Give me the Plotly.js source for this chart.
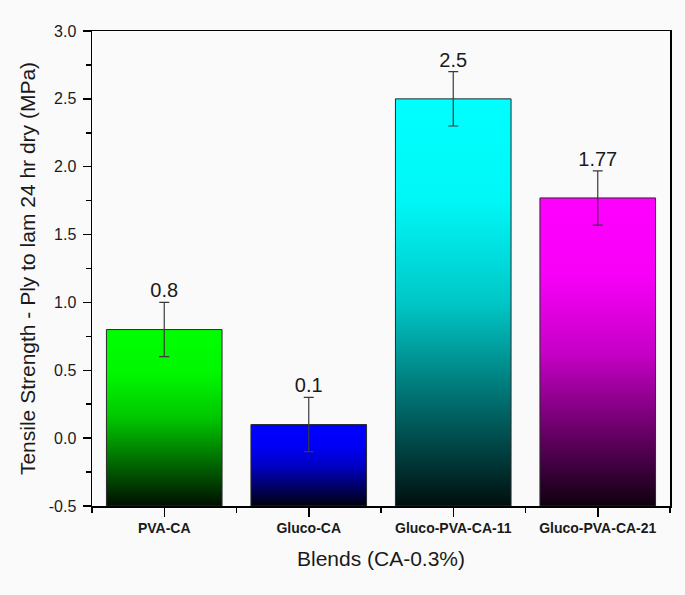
<!DOCTYPE html>
<html>
<head>
<meta charset="utf-8">
<script src="https://cdn.plot.ly/plotly-3.0.1.min.js"></script>
<style>html,body{margin:0;padding:0;background:#fafafa;}#chart{width:685px;height:595px;}</style>
</head>
<body>
<div id="chart"></div>
<script>
// Data
var categories = ['PVA-CA', 'Gluco-CA', 'Gluco-PVA-CA-11', 'Gluco-PVA-CA-21'];
var strength = [0.8, 0.1, 2.5, 1.77];
var errors = [0.2, 0.2, 0.2, 0.2];
var labels = ['0.8', '0.1', '2.5', '1.77'];
var barColors = [[0, 255, 0], [0, 0, 255], [0, 255, 255], [255, 0, 255]];
var yTickVals = [-0.5, 0, 0.5, 1.0, 1.5, 2.0, 2.5, 3.0];

var FONT = 'Liberation Sans, Arial, sans-serif';
var yMin = -0.5, yMax = 3.0;
var barWidth = 0.8;
// brightness profile of the vertical fill (bottom -> top)
var shade = [[0, 0.06], [0.25, 0.42], [0.5, 0.78], [0.75, 0.97], [1, 1.0]];

function scaleFor(rgb) {
  return shade.map(function (s) {
    var c = rgb.map(function (v) { return Math.round(v * s[1]); });
    return [s[0], 'rgb(' + c.join(',') + ')'];
  });
}

var traces = [];
categories.forEach(function (c, i) {
  var x0 = i - barWidth / 2, x1 = i + barWidth / 2;
  traces.push({
    type: 'scatter',
    mode: 'lines',
    x: [x0, x1, x1, x0, x0],
    y: [yMin, yMin, strength[i], strength[i], yMin],
    fill: 'toself',
    fillgradient: {type: 'vertical', colorscale: scaleFor(barColors[i])},
    line: {color: '#2a2a2a', width: 1},
    hoverinfo: 'skip',
    showlegend: false
  });
});

traces.push({
  type: 'scatter',
  mode: 'markers',
  x: categories.map(function (c, i) { return i; }),
  y: strength,
  marker: {size: 1, color: 'rgba(0,0,0,0)'},
  error_y: {type: 'data', array: errors, visible: true, color: '#3a3a3a', thickness: 1.2, width: 5},
  showlegend: false,
  hoverinfo: 'skip'
});

traces.push({
  type: 'scatter',
  mode: 'text',
  x: categories.map(function (c, i) { return i; }),
  y: strength.map(function (v, i) { return v + errors[i]; }),
  text: labels,
  textposition: 'top center',
  textfont: {family: FONT, size: 20, color: '#1a1a1a'},
  showlegend: false,
  hoverinfo: 'skip'
});

var layout = {
  width: 685,
  height: 595,
  margin: {l: 92, r: 15, t: 31, b: 89},
  paper_bgcolor: '#fafafa',
  plot_bgcolor: '#fafafa',
  font: {family: FONT, color: '#1a1a1a'},
  showlegend: false,
  xaxis: {
    range: [-0.5, 3.5],
    tickmode: 'array',
    tickvals: categories.map(function (c, i) { return i; }),
    ticktext: categories,
    tickfont: {family: FONT, size: 14, weight: 'bold', color: '#1a1a1a'},
    ticks: 'outside',
    ticklen: 9,
    tickwidth: 1.5,
    tickcolor: '#000',
    minor: {tickmode: 'linear', tick0: 0.5, dtick: 1, ticks: 'outside', ticklen: 5, tickwidth: 1.5, tickcolor: '#000'},
    showline: true,
    linecolor: '#000',
    linewidth: 1.5,
    mirror: true,
    showgrid: false,
    zeroline: false,
    title: {text: 'Blends (CA-0.3%)', font: {family: FONT, size: 21, color: '#1a1a1a'}, standoff: 16}
  },
  yaxis: {
    range: [yMin, yMax],
    tickmode: 'array',
    tickvals: yTickVals,
    ticktext: yTickVals.map(function (v) { return v.toFixed(1); }),
    tickfont: {family: FONT, size: 16, color: '#1a1a1a'},
    ticks: 'outside',
    ticklen: 8,
    tickwidth: 1.5,
    tickcolor: '#000',
    ticklabelstandoff: 3,
    minor: {tickmode: 'linear', tick0: -0.25, dtick: 0.5, ticks: 'outside', ticklen: 5, tickwidth: 1.5, tickcolor: '#000'},
    showline: true,
    linecolor: '#000',
    linewidth: 1.5,
    mirror: true,
    showgrid: false,
    zeroline: false,
    title: {text: 'Tensile Strength - Ply to lam 24 hr dry (MPa)', font: {family: FONT, size: 21, color: '#1a1a1a'}, standoff: 7}
  }
};

Plotly.newPlot('chart', traces, layout, {displayModeBar: false, staticPlot: true});
</script>
</body>
</html>
